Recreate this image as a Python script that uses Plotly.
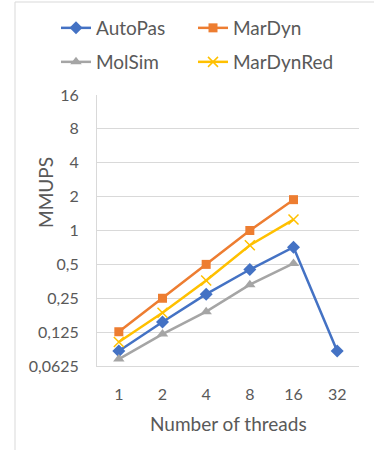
import plotly.graph_objects as go
import math

threads = ["1", "2", "4", "8", "16", "32"]
autopas = [0.085, 0.154, 0.272, 0.45, 0.71, 0.085]
mardyn = [0.126, 0.25, 0.5, 1.0, 1.88]
molsim = [0.072, 0.12, 0.19, 0.33, 0.51]
mardynred = [0.102, 0.186, 0.36, 0.74, 1.25]

ytick_vals = [0.0625, 0.125, 0.25, 0.5, 1, 2, 4, 8, 16]
ytick_text = ["0,0625", "0,125", "0,25", "0,5", "1", "2", "4", "8", "16"]

FONT = "Lato"
TXT = "#595959"
GRID = "#d9d9d9"

W, H = 374, 450
L, R, T, B = 97, 15, 95, 84
pw, ph = W - L - R, H - T - B

def px(x):
    return (x - L) / pw

def py(y):
    return (H - B - y) / ph

fig = go.Figure()
fig.add_trace(go.Scatter(x=threads, y=autopas, name="AutoPas", mode="lines+markers",
                         line=dict(color="#4472C4", width=2.5),
                         marker=dict(symbol="diamond", size=10, color="#4472C4"),
                         legend="legend", showlegend=True))
fig.add_trace(go.Scatter(x=threads[:5], y=mardyn, name="MarDyn", mode="lines+markers",
                         line=dict(color="#ED7D31", width=2.5),
                         marker=dict(symbol="square", size=9, color="#ED7D31"),
                         legend="legend2", showlegend=True))
fig.add_trace(go.Scatter(x=threads[:5], y=molsim, name="MolSim", mode="lines+markers",
                         line=dict(color="#A5A5A5", width=2.5),
                         marker=dict(symbol="triangle-up", size=10, color="#A5A5A5"),
                         legend="legend3", showlegend=True))
fig.add_trace(go.Scatter(x=threads[:5], y=mardynred, name="MarDynRed", mode="lines+markers",
                         line=dict(color="#FFC000", width=2.5),
                         marker=dict(symbol="x-thin", size=10, color="#FFC000",
                                     line=dict(color="#FFC000", width=1.5)),
                         legend="legend4", showlegend=True))

leg_common = dict(orientation="h", xanchor="left", yanchor="middle",
                  font=dict(family=FONT, size=19, color=TXT),
                  bgcolor="rgba(0,0,0,0)", itemclick=False)

X1, X2 = 56, 193
Y1, Y2 = 28, 62

fig.update_layout(
    width=W, height=H,
    showlegend=True,
    margin=dict(l=L, r=R, t=T, b=B, autoexpand=False),
    paper_bgcolor="white", plot_bgcolor="white",
    font=dict(family=FONT, color=TXT),
    legend=dict(x=px(X1), y=py(Y1), **leg_common),
    legend2=dict(x=px(X2), y=py(Y1), **leg_common),
    legend3=dict(x=px(X1), y=py(Y2), **leg_common),
    legend4=dict(x=px(X2), y=py(Y2), **leg_common),
    xaxis=dict(type="category", showgrid=False, showline=True, linecolor=GRID,
               linewidth=1, ticks="", tickfont=dict(family=FONT, size=16, color=TXT),
               ticklabelstandoff=14, range=[-0.5, 5.5], fixedrange=True),
    yaxis=dict(type="log", range=[math.log10(0.0625), math.log10(16)],
               tickvals=ytick_vals, ticktext=ytick_text,
               showgrid=True, gridcolor=GRID, gridwidth=1,
               showline=True, linecolor=GRID, linewidth=1, ticks="",
               tickfont=dict(family=FONT, size=16, color=TXT),
               ticklabelstandoff=14, zeroline=False, fixedrange=True),
    annotations=[
        dict(text="MMUPS", x=px(45), y=py(193), xref="paper", yref="paper",
             showarrow=False, textangle=-90, font=dict(family=FONT, size=19, color=TXT),
             xanchor="center", yanchor="middle"),
        dict(text="Number of threads", x=px(228), y=py(423), xref="paper", yref="paper",
             showarrow=False, font=dict(family=FONT, size=19, color=TXT),
             xanchor="center", yanchor="middle"),
    ],
    shapes=[
        dict(type="line", xref="paper", yref="paper", x0=px(15), x1=px(15),
             y0=py(2), y1=py(450), line=dict(color=GRID, width=1)),
        dict(type="line", xref="paper", yref="paper", x0=px(15), x1=px(374),
             y0=py(2), y1=py(2), line=dict(color=GRID, width=1)),
    ],
)

fig.write_html("out.html", config={"displayModeBar": False},
               post_script="document.body.style.margin='0px';")
